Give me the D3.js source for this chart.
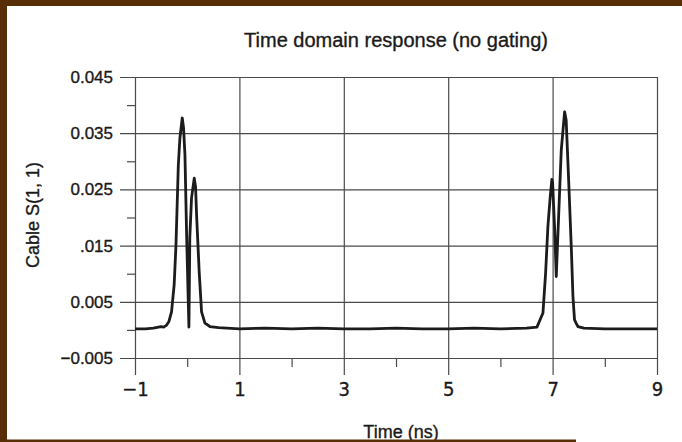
<!DOCTYPE html>
<html>
<head>
<meta charset="utf-8">
<script src="https://cdn.jsdelivr.net/npm/d3@7"></script>
<style>
  body { margin: 0; background: #fff; }
  svg { display: block; }
  text { font-family: "Liberation Sans", Arial, sans-serif; fill: #1a1a1a; stroke: #1a1a1a; stroke-width: 0.35px; }
  .narrow { font-family: "Liberation Sans Narrow", "DejaVu Sans Condensed", Arial, sans-serif; }
</style>
</head>
<body>
<svg id="chart"></svg>
<script>
// time in ns, cable S(1,1)
const timeNs = [-1.0, -0.8, -0.65, -0.55, -0.5, -0.45, -0.4, -0.35, -0.3, -0.25, -0.215, -0.17, -0.14, -0.095, -0.07, -0.043, -0.01, 0.033,
  0.05, 0.083, 0.135, 0.16, 0.18, 0.23, 0.275, 0.34, 0.435, 0.6, 1.0, 1.5, 2.0, 2.5, 3.0, 3.5, 4.0, 4.5, 5.0, 5.5, 6.0, 6.5, 6.7,
  6.815, 6.866, 6.91, 6.955, 6.986, 7.0, 7.04, 7.07, 7.115, 7.166, 7.23, 7.26, 7.31, 7.36, 7.39, 7.42, 7.45, 7.485, 7.6, 8.0, 8.5, 9.0];
const s11 = [0.0002, 0.0002, 0.0003, 0.0005, 0.0006, 0.0005, 0.0008, 0.0015, 0.0032, 0.0080, 0.0151, 0.0293, 0.0341, 0.0377, 0.0360, 0.0311, 0.0164, 0.0005,
  0.0164, 0.0235, 0.0270, 0.0255, 0.0204, 0.0103, 0.0032, 0.0012, 0.0006, 0.0004, 0.0002, 0.0003, 0.0002, 0.0003, 0.0002, 0.0002, 0.0003, 0.0002, 0.0002, 0.0003, 0.0002, 0.0003, 0.0005,
  0.0030, 0.0101, 0.0184, 0.0237, 0.0268, 0.0262, 0.0178, 0.0095, 0.0201, 0.0320, 0.0388, 0.0373, 0.0261, 0.0142, 0.0059, 0.0018, 0.0012, 0.0006, 0.0003, 0.0002, 0.0002, 0.0002];

const xTicks = [-1, 1, 3, 5, 7, 9];
const xTickLabels = ["\u22121", "1", "3", "5", "7", "9"];
const xMinor = [0, 2, 4, 6, 8];
const yTicks = [-0.005, 0.005, 0.015, 0.025, 0.035, 0.045];
const yTickLabels = ["\u22120.005", "0.005", ".015", "0.025", "0.035", "0.045"];
const yMinor = [0, 0.01, 0.02, 0.03, 0.04];

const W = 682, H = 442;
const brown = "#582e06";
const gridColor = "#4a4a4a";

const svg = d3.select("#chart").attr("width", W).attr("height", H);

const x = d3.scaleLinear().domain([-1, 9]).range([135, 657]);
const y = d3.scaleLinear().domain([-0.005, 0.045]).range([358, 77]);

// y gridlines + labels
const gy = svg.append("g")
    .attr("transform", "translate(120,0)")
    .call(d3.axisLeft(y).tickValues(yTicks)
        .tickSizeInner(-(x.range()[1] - 120)).tickSizeOuter(0).tickPadding(7)
        .tickFormat((d, i) => yTickLabels[i]));
gy.select(".domain").remove();
gy.selectAll("line").attr("stroke", gridColor).attr("stroke-width", 1.2);
gy.selectAll("text").style("font-size", "17px").attr("fill", "#1a1a1a");

// y minor ticks
const gym = svg.append("g")
    .attr("transform", "translate(135,0)")
    .call(d3.axisLeft(y).tickValues(yMinor).tickSize(8).tickFormat(""));
gym.select(".domain").remove();
gym.selectAll("line").attr("stroke", gridColor).attr("stroke-width", 1.2);

// x gridlines + labels
const gx = svg.append("g")
    .attr("transform", "translate(0,375)")
    .call(d3.axisBottom(x).tickValues(xTicks)
        .tickSizeInner(-(375 - 77)).tickSizeOuter(0).tickPadding(7)
        .tickFormat((d, i) => xTickLabels[i]));
gx.select(".domain").remove();
gx.selectAll("line").attr("stroke", gridColor).attr("stroke-width", 1.2);
gx.selectAll("text").attr("class", "narrow").style("font-size", "20px").attr("fill", "#1a1a1a");

// x minor ticks
const gxm = svg.append("g")
    .attr("transform", "translate(0,358)")
    .call(d3.axisBottom(x).tickValues(xMinor).tickSize(9).tickFormat(""));
gxm.select(".domain").remove();
gxm.selectAll("line").attr("stroke", gridColor).attr("stroke-width", 1.2);

// trace
const pts = timeNs.map((t, i) => [t, s11[i]]);
svg.append("path")
    .datum(pts)
    .attr("fill", "none")
    .attr("stroke", "#1c1c1c")
    .attr("stroke-width", 2.8)
    .attr("stroke-linejoin", "round")
    .attr("d", d3.line().x(d => x(d[0])).y(d => y(d[1])));

// titles
svg.append("text")
    .attr("x", 396).attr("y", 47)
    .attr("text-anchor", "middle")
    .style("font-size", "20px")
    .text("Time domain response (no gating)");

svg.append("text")
    .attr("transform", "translate(39,215) rotate(-90)")
    .attr("text-anchor", "middle")
    .style("font-size", "18px")
    .text("Cable S(1, 1)");

svg.append("text")
    .attr("x", 401).attr("y", 438)
    .attr("text-anchor", "middle")
    .style("font-size", "18px")
    .text("Time (ns)");

// brown frame pieces
svg.append("rect").attr("x", 0).attr("y", 0).attr("width", W).attr("height", 6).attr("fill", brown);
svg.append("rect").attr("x", 0).attr("y", 0).attr("width", 7).attr("height", H).attr("fill", brown);
svg.append("rect").attr("x", 0).attr("y", 439.5).attr("width", 576).attr("height", 2.5).attr("fill", brown);
</script>
</body>
</html>
